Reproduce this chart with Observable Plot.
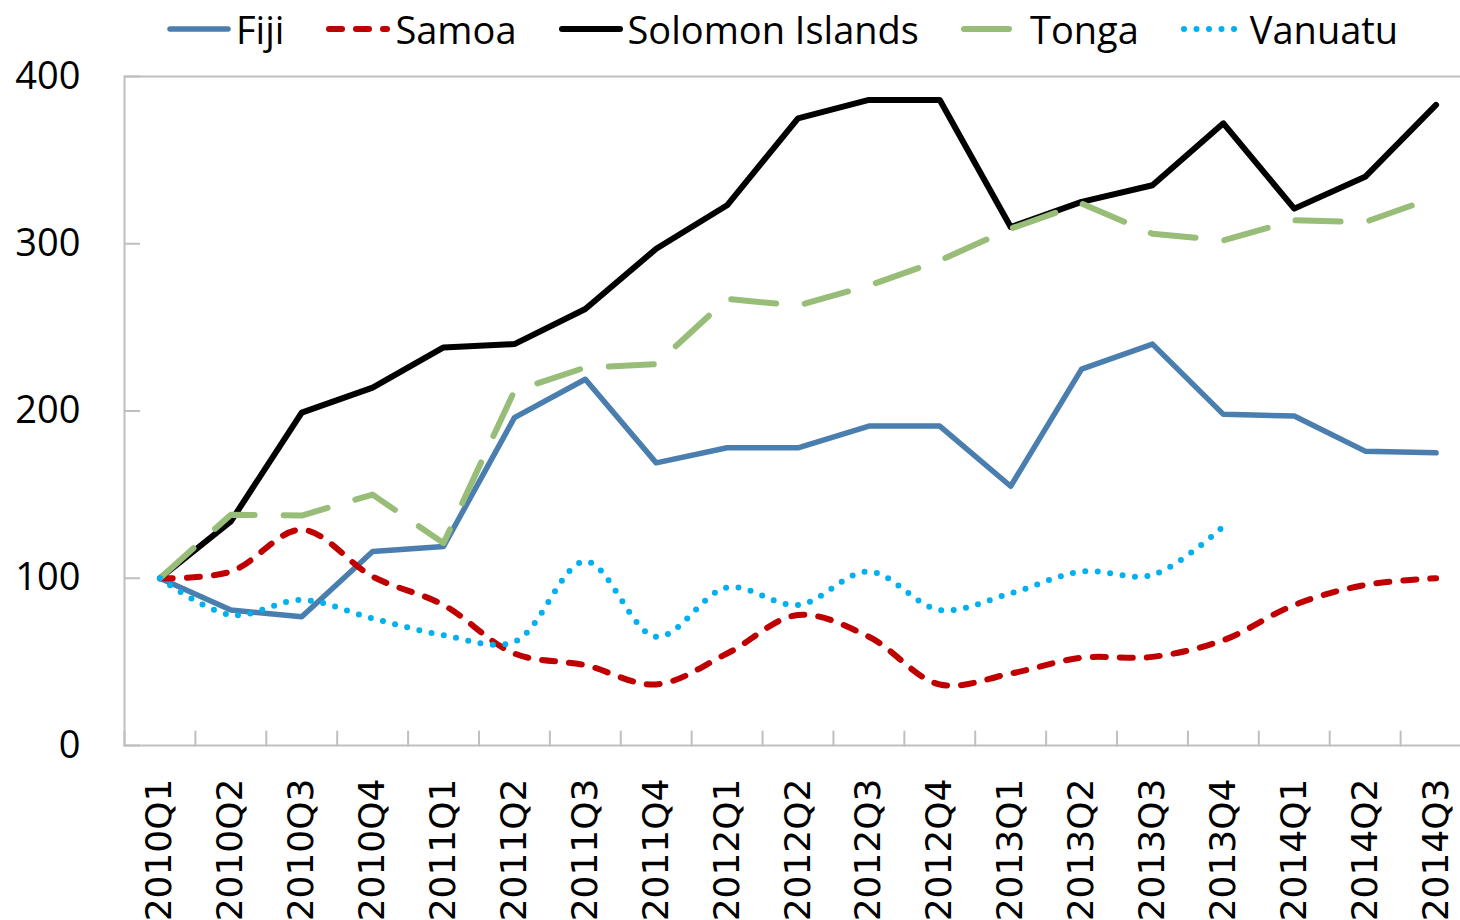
<!DOCTYPE html>
<html>
<head>
<meta charset="utf-8">
<script src="https://cdn.jsdelivr.net/npm/d3@7"></script>
<script src="https://cdn.jsdelivr.net/npm/@observablehq/plot@0.6"></script>
<style>
  html, body { margin: 0; padding: 0; background: #fff; overflow: hidden; }
  #wrap { position: relative; width: 1460px; height: 920px; }
  #legend { position: absolute; top: -2px; left: 166px; height: 62px; display: flex; align-items: center;
            font-family: "Open Sans", sans-serif; font-size: 38px; color: #000; gap: 41px; white-space: nowrap; }
  #legend .item { display: flex; align-items: center; gap: 4px; }
  #legend svg { display: block; }
</style>
</head>
<body>
<div id="wrap">
  <div id="chart"></div>
  <div id="legend"></div>
</div>
<script>
// ---- data ----
const quarters = ["2010Q1","2010Q2","2010Q3","2010Q4","2011Q1","2011Q2","2011Q3","2011Q4",
                  "2012Q1","2012Q2","2012Q3","2012Q4","2013Q1","2013Q2","2013Q3","2013Q4",
                  "2014Q1","2014Q2","2014Q3"];
const fiji     = [100, 81, 77, 116, 119, 196, 219, 169, 178, 178, 191, 191, 155, 225, 240, 198, 197, 176, 175];
const samoa    = [100, 104, 129, 101, 84, 55, 48, 36.5, 55, 78, 65, 36.5, 43, 52.5, 53, 63, 84, 96, 100];
const solomon  = [100, 134, 199, 214, 238, 240, 261, 297, 323, 375, 386, 386, 310, 325, 335, 372, 321, 340, 383];
const tonga    = [100, 138, 137.5, 150, 121, 212, 226, 228, 267, 263, 275, 290, 309, 324, 306, 302, 314, 313, 328];
const vanuatu  = [100, 78, 87, 76, 66, 62, 110, 65, 94.5, 84, 104, 81, 91, 104, 102, 131];
const yTicks   = [0, 100, 200, 300, 400];

const seriesNames = ["Fiji", "Samoa", "Solomon Islands", "Tonga", "Vanuatu"];
const seriesValues = [fiji, samoa, solomon, tonga, vanuatu];

// ---- styles ----
const styles = {
  "Fiji":            {stroke: "#4A7EAF", strokeWidth: 5.5, dash: null, curve: "linear"},
  "Samoa":           {stroke: "#C00000", strokeWidth: 6, dash: "13 14", curve: "catmull-rom"},
  "Solomon Islands": {stroke: "#000000", strokeWidth: 6, dash: null, curve: "linear"},
  "Tonga":           {stroke: "#98BD78", strokeWidth: 6, dash: "45 29", curve: "linear"},
  "Vanuatu":         {stroke: "#00B0F0", strokeWidth: 6, dash: "0 12.5", curve: "catmull-rom"}
};

const rows = seriesNames.flatMap((name, i) =>
  seriesValues[i].map((v, j) => ({country: name, quarter: quarters[j], value: v})));

const W = 1460, H = 920, mL = 124, mR = -11, mT = 76, mB = 175;
const frameW = W - mL - mR;
const step = frameW / quarters.length;
const tickLen = 16;

const lineMarks = seriesNames.map(name => {
  const s = styles[name];
  return Plot.line(rows.filter(d => d.country === name), {
    x: "quarter", y: "value", stroke: s.stroke, strokeWidth: s.strokeWidth,
    strokeDasharray: s.dash, strokeLinecap: "round", strokeLinejoin: "round", curve: s.curve
  });
});

const tickShape = {draw(context, l) { context.moveTo(0, 0); context.lineTo(0, -l); }};

const chart = Plot.plot({
  width: W, height: H,
  marginLeft: mL, marginRight: mR, marginTop: mT, marginBottom: mB,
  style: {fontFamily: "Open Sans", background: "transparent", overflow: "visible"},
  x: {type: "point", domain: quarters, padding: 0.5, round: false, label: null},
  y: {domain: [0, 400], label: null},
  marks: [
    Plot.frame({stroke: "#BFBFBF", strokeWidth: 2}),
    // inward ticks on the value axis
    Plot.ruleY(yTicks, {y: d => d, insetRight: frameW - tickLen, stroke: "#BFBFBF", strokeWidth: 2}),
    Plot.axisY({ticks: yTicks, tickSize: 0, tickPadding: 44, fontSize: 38, fill: "#000", fontFamily: "Open Sans", label: null}),
    // inward ticks between categories
    Plot.vector(quarters, {x: d => d, frameAnchor: "bottom", rotate: 0, length: 14, anchor: "start",
                           dx: -step / 2, shape: tickShape, stroke: "#BFBFBF", strokeWidth: 2}),
    Plot.axisX({tickSize: 0, tickPadding: 33, tickRotate: -90, fontSize: 36, fill: "#000", fontFamily: "DejaVu Sans", label: null}),
    ...lineMarks
  ]
});
document.getElementById("chart").appendChild(chart);

// ---- legend ----
const legend = document.getElementById("legend");
for (const name of seriesNames) {
  const s = styles[name];
  const item = document.createElement("div");
  item.className = "item";
  const dash = s.dash ? `stroke-dasharray="${s.dash}"` : "";
  item.innerHTML = `<svg width="66" height="14"><line x1="4" y1="7" x2="62" y2="7" stroke="${s.stroke}" stroke-width="${s.strokeWidth}" stroke-linecap="round" ${dash}/></svg><span>${name}</span>`;
  legend.appendChild(item);
}
</script>
</body>
</html>
